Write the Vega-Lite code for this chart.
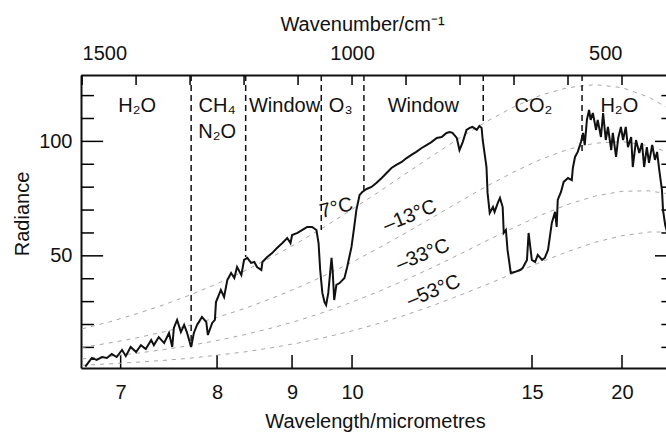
{
  "$schema": "https://vega.github.io/schema/vega-lite/v6.json",
  "width": 585,
  "height": 293,
  "autosize": {"type": "none"},
  "padding": {"left": 81, "top": 75, "right": 0, "bottom": 64},
  "background": "white",
  "datasets": {
    "planck": [
      {"T":"7°C","nu":400,"R":111.9},{"T":"7°C","nu":420,"R":115.2},{"T":"7°C","nu":450,"R":119.3},{"T":"7°C","nu":500,"R":123.5},{"T":"7°C","nu":550,"R":124.8},{"T":"7°C","nu":600,"R":123.5},{"T":"7°C","nu":650,"R":120.2},{"T":"7°C","nu":700,"R":115.1},{"T":"7°C","nu":750,"R":108.8},{"T":"7°C","nu":800,"R":101.6},{"T":"7°C","nu":850,"R":93.9},{"T":"7°C","nu":900,"R":86.0},{"T":"7°C","nu":950,"R":78.0},{"T":"7°C","nu":1000,"R":70.3},{"T":"7°C","nu":1050,"R":62.8},{"T":"7°C","nu":1100,"R":55.8},{"T":"7°C","nu":1150,"R":49.3},{"T":"7°C","nu":1200,"R":43.3},{"T":"7°C","nu":1250,"R":37.8},{"T":"7°C","nu":1300,"R":32.9},{"T":"7°C","nu":1350,"R":28.5},{"T":"7°C","nu":1400,"R":24.6},{"T":"7°C","nu":1450,"R":21.1},{"T":"7°C","nu":1500,"R":18.1},
      {"T":"-13°C","nu":400,"R":93.5},{"T":"-13°C","nu":420,"R":95.7},{"T":"-13°C","nu":450,"R":98.1},{"T":"-13°C","nu":500,"R":99.9},{"T":"-13°C","nu":550,"R":99.2},{"T":"-13°C","nu":600,"R":96.5},{"T":"-13°C","nu":650,"R":92.2},{"T":"-13°C","nu":700,"R":86.7},{"T":"-13°C","nu":750,"R":80.5},{"T":"-13°C","nu":800,"R":73.8},{"T":"-13°C","nu":850,"R":66.9},{"T":"-13°C","nu":900,"R":60.1},{"T":"-13°C","nu":950,"R":53.5},{"T":"-13°C","nu":1000,"R":47.2},{"T":"-13°C","nu":1050,"R":41.5},{"T":"-13°C","nu":1100,"R":36.1},{"T":"-13°C","nu":1150,"R":31.3},{"T":"-13°C","nu":1200,"R":26.9},{"T":"-13°C","nu":1250,"R":23.1},{"T":"-13°C","nu":1300,"R":19.7},{"T":"-13°C","nu":1350,"R":16.7},{"T":"-13°C","nu":1400,"R":14.1},{"T":"-13°C","nu":1450,"R":11.9},{"T":"-13°C","nu":1500,"R":10.0},
      {"T":"-33°C","nu":400,"R":76.2},{"T":"-33°C","nu":420,"R":77.3},{"T":"-33°C","nu":450,"R":78.4},{"T":"-33°C","nu":500,"R":78.2},{"T":"-33°C","nu":550,"R":76.1},{"T":"-33°C","nu":600,"R":72.5},{"T":"-33°C","nu":650,"R":67.8},{"T":"-33°C","nu":700,"R":62.4},{"T":"-33°C","nu":750,"R":56.7},{"T":"-33°C","nu":800,"R":50.8},{"T":"-33°C","nu":850,"R":45.0},{"T":"-33°C","nu":900,"R":39.6},{"T":"-33°C","nu":950,"R":34.5},{"T":"-33°C","nu":1000,"R":29.8},{"T":"-33°C","nu":1050,"R":25.5},{"T":"-33°C","nu":1100,"R":21.7},{"T":"-33°C","nu":1150,"R":18.4},{"T":"-33°C","nu":1200,"R":15.5},{"T":"-33°C","nu":1250,"R":13.0},{"T":"-33°C","nu":1300,"R":10.8},{"T":"-33°C","nu":1350,"R":9.0},{"T":"-33°C","nu":1400,"R":7.4},{"T":"-33°C","nu":1450,"R":6.1},{"T":"-33°C","nu":1500,"R":5.0},
      {"T":"-53°C","nu":400,"R":60.1},{"T":"-53°C","nu":420,"R":60.4},{"T":"-53°C","nu":450,"R":60.4},{"T":"-53°C","nu":500,"R":58.8},{"T":"-53°C","nu":550,"R":55.9},{"T":"-53°C","nu":600,"R":51.9},{"T":"-53°C","nu":650,"R":47.3},{"T":"-53°C","nu":700,"R":42.4},{"T":"-53°C","nu":750,"R":37.5},{"T":"-53°C","nu":800,"R":32.8},{"T":"-53°C","nu":850,"R":28.3},{"T":"-53°C","nu":900,"R":24.2},{"T":"-53°C","nu":950,"R":20.5},{"T":"-53°C","nu":1000,"R":17.2},{"T":"-53°C","nu":1050,"R":14.4},{"T":"-53°C","nu":1100,"R":11.9},{"T":"-53°C","nu":1150,"R":9.8},{"T":"-53°C","nu":1200,"R":8.0},{"T":"-53°C","nu":1250,"R":6.6},{"T":"-53°C","nu":1300,"R":5.3},{"T":"-53°C","nu":1350,"R":4.3},{"T":"-53°C","nu":1400,"R":3.5},{"T":"-53°C","nu":1450,"R":2.8},{"T":"-53°C","nu":1500,"R":2.2}
    ],
    "spectrum": [
      {"nu":1494,"R":1.6},{"nu":1482,"R":5.4},{"nu":1473,"R":4.5},{"nu":1463,"R":5.8},{"nu":1454,"R":5.4},{"nu":1445,"R":7.1},{"nu":1436,"R":5.8},{"nu":1426,"R":8.9},{"nu":1419,"R":6.2},{"nu":1410,"R":10.2},{"nu":1400,"R":8.0},{"nu":1391,"R":11.0},{"nu":1382,"R":9.3},{"nu":1372,"R":13.2},{"nu":1367,"R":11.0},{"nu":1358,"R":14.5},{"nu":1348,"R":11.9},{"nu":1339,"R":16.3},{"nu":1333,"R":10.2},{"nu":1330,"R":18.5},{"nu":1324,"R":22.0},{"nu":1317,"R":16.7},{"nu":1311,"R":19.8},{"nu":1306,"R":16.7},{"nu":1298,"R":10.2},{"nu":1293,"R":16.3},{"nu":1287,"R":19.8},{"nu":1278,"R":23.3},{"nu":1270,"R":21.1},{"nu":1267,"R":15.4},{"nu":1259,"R":20.7},{"nu":1254,"R":22.0},{"nu":1252,"R":29.8},{"nu":1243,"R":35.1},{"nu":1237,"R":32.0},{"nu":1231,"R":39.4},{"nu":1224,"R":42.5},{"nu":1218,"R":40.3},{"nu":1213,"R":45.1},{"nu":1205,"R":41.6},{"nu":1200,"R":48.2},{"nu":1194,"R":49.1},{"nu":1187,"R":46.9},{"nu":1181,"R":47.3},{"nu":1176,"R":45.1},{"nu":1168,"R":43.8},{"nu":1166,"R":47.3},{"nu":1157,"R":49.5},{"nu":1148,"R":51.2},{"nu":1139,"R":53.4},{"nu":1129,"R":55.6},{"nu":1120,"R":57.8},{"nu":1114,"R":55.6},{"nu":1111,"R":59.1},{"nu":1101,"R":60.0},{"nu":1092,"R":61.3},{"nu":1083,"R":62.6},{"nu":1074,"R":62.6},{"nu":1066,"R":61.3},{"nu":1062,"R":55.6},{"nu":1059,"R":43.8},{"nu":1055,"R":33.8},{"nu":1051,"R":29.8},{"nu":1048,"R":28.5},{"nu":1044,"R":33.8},{"nu":1038,"R":49.1},{"nu":1036,"R":43.8},{"nu":1033,"R":30.7},{"nu":1029,"R":37.3},{"nu":1023,"R":38.1},{"nu":1014,"R":40.3},{"nu":1009,"R":45.1},{"nu":1001,"R":53.9},{"nu":996,"R":62.6},{"nu":992,"R":70.0},{"nu":986,"R":76.6},{"nu":981,"R":77.9},{"nu":973,"R":79.2},{"nu":964,"R":80.1},{"nu":955,"R":81.8},{"nu":945,"R":84.0},{"nu":936,"R":86.2},{"nu":927,"R":88.4},{"nu":918,"R":89.7},{"nu":908,"R":91.0},{"nu":899,"R":92.7},{"nu":890,"R":94.1},{"nu":881,"R":95.4},{"nu":871,"R":97.1},{"nu":862,"R":98.4},{"nu":853,"R":99.7},{"nu":843,"R":101.5},{"nu":834,"R":101.9},{"nu":825,"R":103.7},{"nu":819,"R":104.1},{"nu":814,"R":103.7},{"nu":806,"R":101.5},{"nu":801,"R":96.2},{"nu":795,"R":99.7},{"nu":788,"R":105.0},{"nu":782,"R":105.9},{"nu":777,"R":106.3},{"nu":769,"R":105.0},{"nu":764,"R":106.7},{"nu":760,"R":105.9},{"nu":758,"R":100.6},{"nu":751,"R":88.8},{"nu":749,"R":77.5},{"nu":745,"R":68.7},{"nu":739,"R":71.3},{"nu":736,"R":69.2},{"nu":730,"R":73.1},{"nu":726,"R":75.3},{"nu":721,"R":71.3},{"nu":719,"R":60.0},{"nu":715,"R":61.3},{"nu":712,"R":52.6},{"nu":706,"R":42.5},{"nu":699,"R":42.9},{"nu":689,"R":43.8},{"nu":684,"R":44.7},{"nu":676,"R":48.2},{"nu":673,"R":60.0},{"nu":667,"R":48.2},{"nu":661,"R":47.3},{"nu":656,"R":50.4},{"nu":648,"R":48.2},{"nu":643,"R":49.1},{"nu":637,"R":52.6},{"nu":630,"R":64.4},{"nu":624,"R":69.2},{"nu":621,"R":62.6},{"nu":619,"R":74.4},{"nu":613,"R":77.9},{"nu":608,"R":82.3},{"nu":600,"R":84.0},{"nu":593,"R":83.1},{"nu":591,"R":88.4},{"nu":587,"R":93.2},{"nu":582,"R":95.4},{"nu":576,"R":99.7},{"nu":572,"R":103.7},{"nu":569,"R":98.4},{"nu":565,"R":109.4},{"nu":561,"R":113.7},{"nu":558,"R":109.4},{"nu":554,"R":112.4},{"nu":548,"R":105.0},{"nu":545,"R":109.4},{"nu":539,"R":101.9},{"nu":535,"R":112.4},{"nu":530,"R":100.6},{"nu":526,"R":106.3},{"nu":520,"R":96.2},{"nu":517,"R":103.7},{"nu":511,"R":93.2},{"nu":507,"R":101.5},{"nu":502,"R":106.3},{"nu":498,"R":100.6},{"nu":493,"R":106.3},{"nu":489,"R":97.5},{"nu":483,"R":101.9},{"nu":480,"R":88.8},{"nu":474,"R":100.6},{"nu":468,"R":94.9},{"nu":463,"R":99.3},{"nu":459,"R":88.8},{"nu":454,"R":97.5},{"nu":450,"R":90.6},{"nu":444,"R":98.4},{"nu":439,"R":91.9},{"nu":435,"R":95.4},{"nu":431,"R":87.5},{"nu":426,"R":78.8},{"nu":424,"R":70.0},{"nu":420,"R":63.5},{"nu":415,"R":59.1}
    ],
    "bands": [
      {"nu":1298,"r1":129,"r2":10.2},{"nu":1197,"r1":129,"r2":49.5},{"nu":1057,"r1":129,"r2":61.3},{"nu":978,"r1":129,"r2":78.8},{"nu":757,"r1":129,"r2":107.2},{"nu":574,"r1":129,"r2":94.9}
    ],
    "bandLabels": [
      {"nu":1398,"R":112.8,"label":"H₂O"},{"nu":1250,"R":112.8,"label":"CH₄"},{"nu":1250,"R":101.5,"label":"N₂O"},{"nu":1125,"R":112.8,"label":"Window"},{"nu":1021,"R":112.8,"label":"O₃"},{"nu":868,"R":112.8,"label":"Window"},{"nu":664,"R":112.8,"label":"CO₂"},{"nu":505,"R":112.8,"label":"H₂O"}
    ],
    "tempLabels": [
      {"nu":893,"R":67.4,"label":"–13°C"},{"nu":869,"R":50.4,"label":"–33°C"},{"nu":849,"R":34.6,"label":"–53°C"}
    ],
    "tempLabel7": [
      {"nu":1029,"R":70.9,"label":"7°C"}
    ],
    "wlTicks": [{"nu":1428.571},{"nu":1250},{"nu":1111.111},{"nu":1000},{"nu":666.667},{"nu":500}],
    "wnTicks": [{"nu":1500},{"nu":1400},{"nu":1300},{"nu":1200},{"nu":1100},{"nu":1000},{"nu":900},{"nu":800},{"nu":700},{"nu":600},{"nu":500}],
    "majorR": [{"R":50},{"R":100}],
    "minorR": [{"R":10},{"R":20},{"R":30},{"R":40},{"R":60},{"R":70},{"R":80},{"R":90},{"R":110},{"R":120}]
  },
  "layer": [
    {
      "data": {"name": "wlTicks"},
      "mark": {"type": "rule", "stroke": "black", "strokeWidth": 1.5},
      "encoding": {
        "x": {"field": "nu", "type": "quantitative", "scale": {"domain": [1502, 418.5], "nice": false, "zero": false},
          "axis": {"orient": "bottom", "values": [1428.571, 1250, 1111.111, 1000, 666.667, 500], "labelExpr": "format(10000/datum.value, '.0f')", "ticks": false, "grid": false, "domainColor": "#111", "domainWidth": 2, "labelFont": "Liberation Sans", "labelFontSize": 20, "labelColor": "#111", "labelFlush": false, "labelOverlap": false, "labelPadding": 30, "labelBaseline": "alphabetic", "title": "Wavelength/micrometres", "titleFont": "Liberation Sans", "titleFontSize": 20, "titleFontWeight": "normal", "titleColor": "#111", "titleBaseline": "alphabetic", "titleY": 59, "titleX": 294}},
        "y": {"datum": 1, "type": "quantitative", "scale": {"domain": [1, 129], "nice": false, "zero": false},
          "axis": {"orient": "left", "values": [50, 100], "ticks": false, "grid": false, "domainColor": "#111", "domainWidth": 2, "labelFont": "Liberation Sans", "labelFontSize": 20, "labelColor": "#111", "labelOverlap": false, "labelPadding": 9, "title": "Radiance", "titleFont": "Liberation Sans", "titleFontSize": 20, "titleFontWeight": "normal", "titleColor": "#111", "titleBaseline": "alphabetic", "titleX": -53, "titleY": 138.5, "titleAngle": -90}},
        "y2": {"datum": 6.7}
      }
    },
    {
      "data": {"name": "wnTicks"},
      "mark": {"type": "rule", "stroke": "black", "strokeWidth": 1.5},
      "encoding": {
        "x": {"field": "nu", "type": "quantitative", "scale": {"domain": [1502, 418.5], "nice": false, "zero": false},
          "axis": {"orient": "top", "values": [1500, 1000, 500], "format": "d", "labelAlign": {"condition": [{"test": "datum.value === 1500", "value": "left"}, {"test": "datum.value === 500", "value": "right"}], "value": "center"}, "ticks": false, "grid": false, "domainColor": "#111", "domainWidth": 2, "labelFont": "Liberation Sans", "labelFontSize": 20, "labelColor": "#111", "labelFlush": false, "labelOverlap": false, "labelPadding": 16, "labelBaseline": "alphabetic", "title": "Wavenumber/cm⁻¹", "titleFont": "Liberation Sans", "titleFontSize": 20, "titleFontWeight": "normal", "titleColor": "#111", "titleBaseline": "alphabetic", "titleY": -45, "titleX": 281}},
        "y": {"datum": 129, "type": "quantitative", "scale": {"domain": [1, 129], "nice": false, "zero": false}, "axis": null},
        "y2": {"datum": 124.6}
      }
    },
    {
      "data": {"name": "majorR"},
      "mark": {"type": "rule", "stroke": "black", "strokeWidth": 1.5},
      "encoding": {
        "y": {"field": "R", "type": "quantitative", "scale": {"domain": [1, 129], "nice": false, "zero": false}, "axis": null},
        "x": {"datum": 1502, "type": "quantitative", "scale": {"domain": [1502, 418.5], "nice": false, "zero": false}, "axis": null},
        "x2": {"datum": 1461}
      }
    },
    {
      "data": {"name": "minorR"},
      "mark": {"type": "rule", "stroke": "black", "strokeWidth": 1.5},
      "encoding": {
        "y": {"field": "R", "type": "quantitative", "scale": {"domain": [1, 129], "nice": false, "zero": false}, "axis": null},
        "x": {"datum": 1502, "type": "quantitative", "scale": {"domain": [1502, 418.5], "nice": false, "zero": false}, "axis": null},
        "x2": {"datum": 1478}
      }
    },
    {
      "data": {"name": "majorR"},
      "mark": {"type": "rule", "stroke": "black", "strokeWidth": 1.5},
      "encoding": {
        "y": {"field": "R", "type": "quantitative", "scale": {"domain": [1, 129], "nice": false, "zero": false}, "axis": null},
        "x": {"datum": 418.5, "type": "quantitative", "scale": {"domain": [1502, 418.5], "nice": false, "zero": false}, "axis": null},
        "x2": {"datum": 438.9}
      }
    },
    {
      "data": {"name": "minorR"},
      "mark": {"type": "rule", "stroke": "black", "strokeWidth": 1.5},
      "encoding": {
        "y": {"field": "R", "type": "quantitative", "scale": {"domain": [1, 129], "nice": false, "zero": false}, "axis": null},
        "x": {"datum": 418.5, "type": "quantitative", "scale": {"domain": [1502, 418.5], "nice": false, "zero": false}, "axis": null},
        "x2": {"datum": 427}
      }
    },
    {
      "data": {"name": "planck"},
      "mark": {"type": "line", "stroke": "#a8a8a8", "strokeWidth": 1, "strokeDash": [4, 5], "clip": true},
      "encoding": {
        "x": {"field": "nu", "type": "quantitative", "scale": {"domain": [1502, 418.5], "nice": false, "zero": false}, "axis": null},
        "y": {"field": "R", "type": "quantitative", "scale": {"domain": [1, 129], "nice": false, "zero": false}, "axis": null},
        "detail": {"field": "T"}
      }
    },
    {
      "data": {"name": "bands"},
      "mark": {"type": "rule", "stroke": "#111", "strokeWidth": 1.5, "strokeDash": [6, 4]},
      "encoding": {
        "x": {"field": "nu", "type": "quantitative", "scale": {"domain": [1502, 418.5], "nice": false, "zero": false}, "axis": null},
        "y": {"field": "r1", "type": "quantitative", "scale": {"domain": [1, 129], "nice": false, "zero": false}, "axis": null},
        "y2": {"field": "r2"}
      }
    },
    {
      "data": {"name": "spectrum"},
      "mark": {"type": "line", "stroke": "#111", "strokeWidth": 2, "clip": true},
      "encoding": {
        "x": {"field": "nu", "type": "quantitative", "scale": {"domain": [1502, 418.5], "nice": false, "zero": false}, "axis": null},
        "y": {"field": "R", "type": "quantitative", "scale": {"domain": [1, 129], "nice": false, "zero": false}, "axis": null}
      }
    },
    {
      "data": {"name": "bandLabels"},
      "mark": {"type": "text", "font": "Liberation Sans", "fontSize": 20, "fill": "#111", "align": "center", "baseline": "alphabetic"},
      "encoding": {
        "x": {"field": "nu", "type": "quantitative", "scale": {"domain": [1502, 418.5], "nice": false, "zero": false}, "axis": null},
        "y": {"field": "R", "type": "quantitative", "scale": {"domain": [1, 129], "nice": false, "zero": false}, "axis": null},
        "text": {"field": "label"}
      }
    },
    {
      "data": {"name": "tempLabels"},
      "mark": {"type": "text", "font": "Liberation Sans", "fontSize": 20, "fill": "#111", "align": "center", "baseline": "middle", "angle": -22},
      "encoding": {
        "x": {"field": "nu", "type": "quantitative", "scale": {"domain": [1502, 418.5], "nice": false, "zero": false}, "axis": null},
        "y": {"field": "R", "type": "quantitative", "scale": {"domain": [1, 129], "nice": false, "zero": false}, "axis": null},
        "text": {"field": "label"}
      }
    },
    {
      "data": {"name": "tempLabel7"},
      "mark": {"type": "text", "font": "Liberation Sans", "fontSize": 20, "fill": "#111", "align": "center", "baseline": "middle", "angle": -14},
      "encoding": {
        "x": {"field": "nu", "type": "quantitative", "scale": {"domain": [1502, 418.5], "nice": false, "zero": false}, "axis": null},
        "y": {"field": "R", "type": "quantitative", "scale": {"domain": [1, 129], "nice": false, "zero": false}, "axis": null},
        "text": {"field": "label"}
      }
    }
  ],
  "resolve": {"axis": {"x": "independent", "y": "independent"}},
  "config": {"view": {"stroke": null}}
}
